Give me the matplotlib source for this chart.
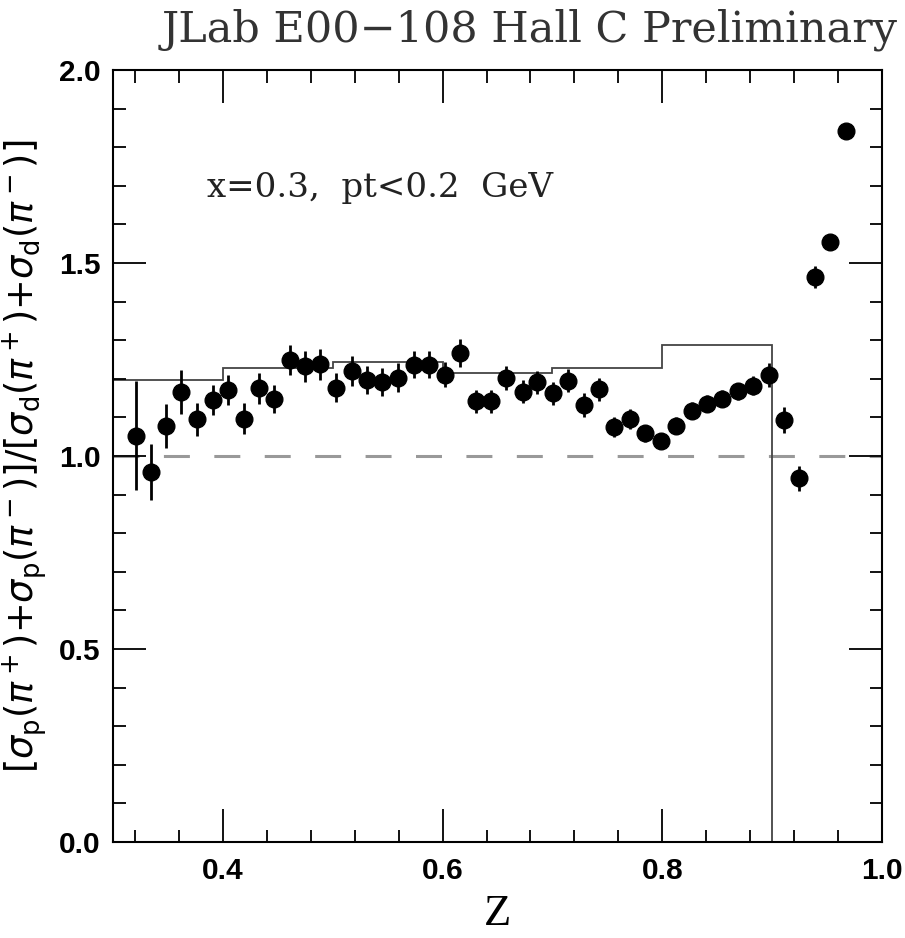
import numpy as np
import matplotlib
matplotlib.use("Agg")
import matplotlib.pyplot as plt
from matplotlib.ticker import MultipleLocator, FormatStrFormatter

# z bins, measured ratio and errors
z = [0.3205, 0.335, 0.3486, 0.362, 0.3765, 0.3906, 0.4048, 0.419, 0.433, 0.4466,
     0.461, 0.4749, 0.4886, 0.5032, 0.5175, 0.5312, 0.545, 0.5595, 0.5738, 0.588,
     0.6018, 0.6158, 0.630, 0.6438, 0.6575, 0.6728, 0.6858, 0.7002, 0.7145, 0.7285,
     0.7422, 0.7565, 0.7708, 0.7845, 0.799, 0.8128, 0.8271, 0.8411, 0.8545, 0.8685,
     0.8828, 0.8971, 0.9111, 0.9248, 0.939, 0.9528, 0.9671]
ratio = [1.053, 0.959, 1.078, 1.167, 1.095, 1.145, 1.171, 1.097, 1.175, 1.148,
         1.249, 1.233, 1.238, 1.177, 1.220, 1.197, 1.192, 1.203, 1.237, 1.237,
         1.211, 1.266, 1.142, 1.142, 1.202, 1.167, 1.191, 1.162, 1.195, 1.132,
         1.173, 1.076, 1.096, 1.059, 1.040, 1.078, 1.117, 1.136, 1.148, 1.168,
         1.182, 1.210, 1.093, 0.942, 1.463, 1.555, 1.842]
err = [0.142, 0.073, 0.058, 0.057, 0.042, 0.040, 0.039, 0.040, 0.039, 0.037,
       0.039, 0.040, 0.040, 0.037, 0.038, 0.037, 0.037, 0.037, 0.035, 0.035,
       0.033, 0.036, 0.030, 0.030, 0.032, 0.030, 0.030, 0.030, 0.030, 0.030,
       0.030, 0.026, 0.025, 0.022, 0.020, 0.022, 0.022, 0.022, 0.022, 0.022,
       0.024, 0.030, 0.034, 0.032, 0.028, 0.018, 0.012]

# model histogram
model_edges = [0.3, 0.4, 0.5, 0.6, 0.7, 0.8, 0.9]
model_vals = [1.197, 1.227, 1.243, 1.214, 1.227, 1.288]

fig = plt.figure(figsize=(9.05, 9.38), dpi=100)
ax = fig.add_axes([113/905, 1 - 842/938, (882-113)/905, (842-70)/938])

ax.axhline(1.0, color='#999999', lw=2.2, linestyle=(0, (8.5, 8)), zorder=1)
ax.stairs(model_vals, model_edges, baseline=0, color='#444444', lw=1.3, zorder=1.5)
ax.errorbar(z, ratio, yerr=err, fmt='o', color='black', ms=12,
            elinewidth=2.0, capsize=0, zorder=3)

ax.set_xlim(0.3, 1.0)
ax.set_ylim(0.0, 2.0)
ax.xaxis.set_major_locator(MultipleLocator(0.2))
ax.xaxis.set_minor_locator(MultipleLocator(0.04))
ax.yaxis.set_major_locator(MultipleLocator(0.5))
ax.yaxis.set_minor_locator(MultipleLocator(0.1))
ax.xaxis.set_major_formatter(FormatStrFormatter('%.1f'))
ax.yaxis.set_major_formatter(FormatStrFormatter('%.1f'))
ax.tick_params(which='both', direction='in', top=True, right=True, width=1.3)
ax.tick_params(which='major', length=24)
ax.tick_params(which='minor', length=9)
ax.tick_params(axis='x', pad=11)
ax.tick_params(axis='y', pad=9)
for lab in ax.get_xticklabels() + ax.get_yticklabels():
    lab.set_fontfamily('Liberation Sans')
    lab.set_fontsize(21.5)
    lab.set_fontweight('bold')
for sp in ax.spines.values():
    sp.set_linewidth(1.5)

ax.set_xlabel('Z', fontfamily='Liberation Serif', fontsize=32, labelpad=6)
ax.set_ylabel(r'$[\sigma_{\rm p}(\pi^+){+}\sigma_{\rm p}(\pi^-)]/[\sigma_{\rm d}(\pi^+){+}\sigma_{\rm d}(\pi^-)]$',
              fontsize=26.5, labelpad=7)

ax.text(0.386, 1.694, 'x=0.3,  pt<0.2  GeV', fontfamily='DejaVu Serif', fontsize=24.5,
        ha='left', va='center', color='#222222')

fig.text(898/905, 1 - 30/938, 'JLab E00\u2212108 Hall C Preliminary',
         fontfamily='DejaVu Serif', fontsize=31, ha='right', va='center',
         color='#333333')

fig.savefig('out.png', dpi=100)
